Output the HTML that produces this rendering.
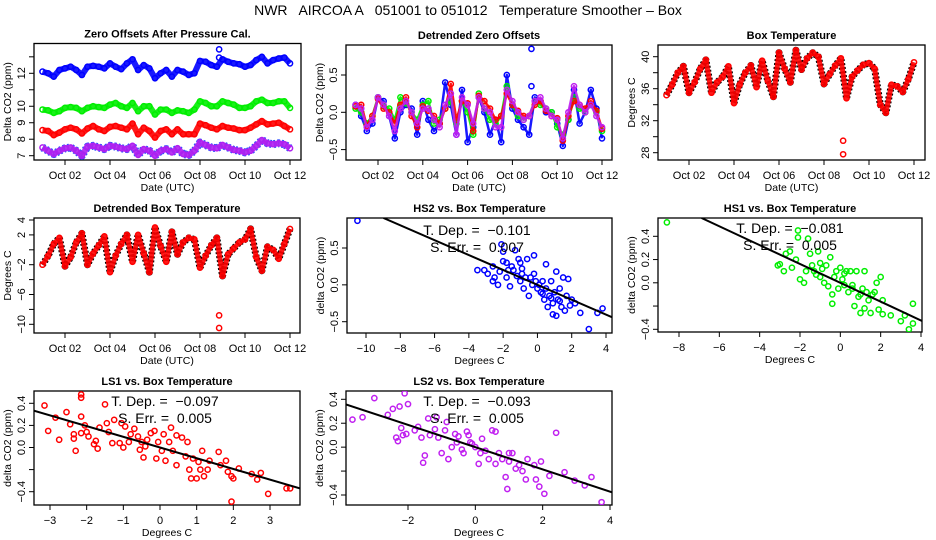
<!DOCTYPE html>
<html><head><meta charset="utf-8"><style>
html,body{margin:0;padding:0;background:#fff;width:936px;height:540px;overflow:hidden;}
svg{display:block;font-family:"Liberation Sans",sans-serif;overflow:hidden;}
</style></head><body>
<svg id="chart" width="936" height="540" viewBox="0 0 936 540" xmlns="http://www.w3.org/2000/svg">
<rect width="936" height="540" fill="#fff"/>
<text x="468" y="15" text-anchor="middle" font-size="14" style="white-space:pre" xml:space="preserve">NWR   AIRCOA A   051001 to 051012   Temperature Smoother – Box</text>
</svg>
<script>
// ---- time grid (days of October) ----
const days = [1.0,1.25,1.5,1.75,2.0,2.25,2.5,2.75,3.0,3.25,3.5,3.75,4.0,4.25,4.5,4.75,5.0,5.25,5.5,5.75,6.0,6.25,6.5,6.75,7.0,7.25,7.5,7.75,8.0,8.25,8.5,8.75,9.0,9.25,9.5,9.75,10.0,10.25,10.5,10.75,11.0,11.25,11.5,11.75,12.0];
// Zero offsets after pressure cal.
const zoBlue = [12.1,12.0,11.8,12.2,12.3,12.4,12.2,11.9,12.4,12.45,12.4,12.3,12.6,12.4,12.25,12.6,12.85,12.2,12.5,12.3,11.7,12.0,12.2,11.8,12.2,12.1,11.9,12.0,12.75,12.7,12.5,12.4,12.85,12.7,12.6,12.55,12.4,12.5,12.8,13.0,12.6,12.8,12.9,12.95,12.6];
const zoGreen = [9.8,9.75,9.6,9.7,9.9,9.95,9.9,9.7,9.9,10.0,9.95,9.9,10.1,10.2,10.0,9.9,10.2,9.7,10.0,10.0,9.5,9.8,9.8,9.6,9.75,9.7,9.6,9.8,10.3,10.2,10.0,10.0,10.3,10.2,10.1,9.9,9.9,10.0,10.3,10.4,10.2,10.2,10.3,10.3,9.9];
const zoRed = [8.55,8.5,8.25,8.4,8.6,8.7,8.6,8.35,8.65,8.8,8.6,8.5,8.75,8.8,8.7,8.6,8.95,8.3,8.7,8.5,8.1,8.5,8.6,8.3,8.6,8.3,8.3,8.3,8.95,8.85,8.7,8.6,8.8,8.7,8.65,8.55,8.55,8.7,8.9,9.1,8.9,8.95,9.0,8.8,8.6];
const zoPurple = [7.5,7.3,7.1,7.3,7.45,7.5,7.3,7.0,7.55,7.6,7.5,7.4,7.6,7.55,7.45,7.4,7.6,7.05,7.4,7.3,7.0,7.3,7.4,7.2,7.45,7.1,7.05,7.3,7.8,7.65,7.5,7.45,7.65,7.5,7.35,7.3,7.2,7.3,7.6,7.95,7.75,7.7,7.75,7.7,7.45];
// Detrended zero offsets
const dzBlue = [0.10,-0.05,-0.25,-0.15,0.20,0.15,-0.05,-0.35,0.0,0.10,0.05,-0.30,0.15,-0.10,-0.25,-0.15,0.40,0.10,-0.30,0.30,-0.40,-0.20,0.20,0.0,-0.30,-0.10,-0.40,0.50,0.05,-0.10,-0.20,-0.30,0.20,0.15,0.0,0.0,-0.15,-0.45,-0.10,0.30,-0.15,0.0,0.30,0.05,-0.35];
const dzGreen = [0.05,0.0,-0.15,-0.05,0.20,0.08,0.05,-0.10,0.20,0.12,0.0,-0.10,0.10,0.15,-0.15,-0.10,0.05,0.15,-0.15,0.15,0.0,-0.30,0.25,0.05,-0.10,-0.15,-0.05,0.35,0.10,-0.05,-0.10,-0.05,0.15,0.10,0.05,0.0,-0.20,-0.30,-0.10,0.20,0.05,0.0,0.10,0.0,-0.25];
const dzRed = [0.08,0.10,-0.18,-0.05,0.18,0.05,0.0,-0.15,0.10,0.20,-0.05,-0.20,0.08,0.02,-0.05,-0.15,0.05,0.38,-0.10,0.15,0.12,-0.25,0.22,0.15,0.05,-0.10,-0.05,0.25,0.10,0.02,-0.05,-0.05,0.10,0.15,0.02,-0.05,-0.08,-0.38,-0.05,0.15,0.10,0.05,0.15,0.02,-0.22];
const dzPurple = [0.10,0.05,-0.20,-0.10,0.20,0.10,-0.05,-0.25,0.05,0.15,0.0,-0.15,0.05,0.05,-0.10,-0.20,0.10,0.25,-0.30,0.20,0.10,-0.15,0.20,0.05,0.0,-0.20,-0.20,0.30,0.15,0.0,-0.10,-0.05,0.15,0.20,0.05,-0.05,-0.10,-0.35,0.0,0.35,0.10,0.0,0.10,-0.05,-0.20];
// Box temperature and detrended box temperature
const boxTemp = [35.2,36.5,38.0,38.8,35.5,36.8,38.5,39.6,35.5,36.8,37.5,38.8,34.2,36.5,38.0,38.9,36.2,39.5,37.0,35.0,40.5,38.5,36.8,40.8,38.4,39.8,40.5,40.0,36.6,37.8,38.9,39.8,34.8,37.5,38.3,39.0,39.2,38.5,34.0,33.0,36.5,36.3,35.6,37.2,39.3];
const boxDetr = [-2.0,-0.8,0.8,1.6,-2.2,-1.0,1.0,2.2,-2.0,-0.5,0.6,1.8,-3.0,-0.8,0.8,2.0,-1.6,2.0,-0.5,-3.0,3.0,0.5,-1.6,2.4,-0.6,1.0,1.6,1.4,-2.4,-0.8,0.6,1.6,-3.5,-0.6,0.2,1.0,1.4,2.8,-1.0,-2.8,0.4,0.0,-1.2,0.8,2.8];
// isolated outliers
const outDays = [8.85,8.85];
const boxTempOut = [29.5,27.8];
const boxDetrOut = [-8.8,-10.5];
const zoBlueOut = [13.45,12.95];
const dzBlueOut = [0.85,0.35];
// Scatter: HS2
const hs2Temp = [-10.5,-3.5,-3.1,-2.9,-2.6,-2.6,-2.5,-2.3,-2.2,-2.1,-2.0,-2.0,-1.8,-1.8,-1.6,-1.5,-1.4,-1.3,-1.2,-1.1,-1.0,-1.0,-0.9,-0.8,-0.7,-0.6,-0.5,-0.4,-0.3,-0.2,-0.2,-0.1,0.0,0.1,0.2,0.3,0.4,0.5,0.5,0.6,0.7,0.8,0.9,0.9,1.0,1.1,1.1,1.2,1.3,1.4,1.5,1.6,1.7,1.8,1.9,2.0,2.2,2.5,3.0,3.5,3.8,-1.7,-0.9,0.3,1.3,0.8];
const hs2Co2 = [0.87,0.2,0.2,0.15,0.25,0.05,0.1,0.0,0.18,0.55,0.45,0.32,0.3,0.1,-0.02,0.25,0.2,0.47,0.12,0.35,0.3,0.05,0.15,-0.05,0.1,0.35,-0.15,0.1,0.0,0.4,0.15,0.05,-0.05,0.0,-0.1,0.05,-0.2,0.28,-0.05,-0.3,-0.15,0.05,-0.4,-0.25,-0.1,0.18,-0.42,-0.2,-0.05,-0.3,0.1,-0.35,-0.15,0.08,-0.28,-0.2,-0.25,-0.38,-0.6,-0.38,-0.32,0.2,0.22,-0.12,-0.22,-0.18];
// Scatter: HS1
const hs1Temp = [-8.6,-3.1,-3.0,-2.8,-2.7,-2.5,-2.4,-2.2,-2.1,-2.1,-2.0,-1.8,-1.7,-1.6,-1.5,-1.4,-1.3,-1.2,-1.1,-1.0,-0.9,-0.8,-0.7,-0.6,-0.5,-0.4,-0.4,-0.3,-0.2,-0.1,0.0,0.1,0.2,0.3,0.4,0.5,0.6,0.7,0.8,0.9,1.0,1.1,1.2,1.2,1.3,1.4,1.5,1.6,1.7,1.8,1.9,2.0,2.1,2.1,2.5,3.0,3.2,3.4,3.6,3.6,-1.0,0.2,1.0,0.6];
const hs1Co2 = [0.52,0.15,0.16,0.1,0.25,0.27,0.13,0.2,0.45,0.39,0.03,0.0,0.1,0.38,0.25,0.15,0.1,0.07,0.27,0.17,0.12,0.0,0.15,-0.03,0.22,-0.1,-0.18,0.05,0.1,-0.05,0.13,0.03,-0.02,0.1,-0.08,0.1,-0.05,-0.2,0.1,-0.12,-0.26,-0.05,0.1,-0.22,-0.08,-0.15,-0.26,-0.1,-0.08,0.0,-0.23,0.05,-0.15,-0.27,-0.28,-0.33,-0.28,-0.4,-0.35,-0.18,0.05,0.08,-0.1,-0.02];
// Scatter: LS1
const ls1Temp = [-3.15,-3.05,-2.85,-2.75,-2.55,-2.45,-2.35,-2.35,-2.3,-2.15,-2.15,-2.15,-2.15,-2.05,-2.0,-1.95,-1.8,-1.75,-1.7,-1.65,-1.5,-1.45,-1.4,-1.3,-1.25,-1.1,-1.05,-1.0,-0.95,-0.85,-0.8,-0.7,-0.6,-0.55,-0.5,-0.45,-0.4,-0.35,-0.25,-0.15,-0.1,-0.05,0.05,0.1,0.15,0.25,0.3,0.35,0.45,0.45,0.6,0.7,0.75,0.8,0.85,0.9,1.0,1.05,1.1,1.15,1.2,1.3,1.35,1.6,1.65,1.8,1.85,1.95,2.0,1.95,2.15,2.5,2.65,2.75,2.95,3.45,3.55];
const ls1Co2 = [0.38,0.15,0.27,0.07,0.32,0.21,0.12,0.08,-0.03,0.28,0.48,0.45,0.13,0.2,0.14,0.1,0.03,0.06,-0.01,0.18,0.39,0.22,0.14,0.04,0.25,0.04,0.22,0.0,0.19,0.05,0.12,0.17,0.1,-0.02,0.05,-0.09,0.01,0.07,0.13,0.15,-0.1,0.05,-0.03,0.12,-0.12,0.05,0.18,-0.03,0.11,-0.16,0.09,-0.08,0.05,-0.2,-0.28,-0.1,-0.28,-0.13,-0.2,-0.03,-0.26,-0.2,-0.12,-0.04,-0.16,-0.12,-0.22,-0.26,-0.28,-0.49,-0.19,-0.24,-0.29,-0.23,-0.42,-0.37,-0.37];
// Scatter: LS2
const ls2Temp = [-3.65,-3.35,-3.0,-2.6,-2.45,-2.35,-2.3,-2.25,-2.2,-2.15,-2.1,-2.05,-2.0,-1.8,-1.7,-1.6,-1.55,-1.5,-1.4,-1.35,-1.2,-1.15,-1.1,-1.0,-0.9,-0.85,-0.8,-0.7,-0.6,-0.55,-0.5,-0.4,-0.35,-0.25,-0.15,-0.1,0.0,0.1,0.15,0.2,0.3,0.4,0.5,0.6,0.6,0.7,0.8,0.9,0.95,1.0,1.1,1.2,1.3,1.4,1.5,1.55,1.75,1.8,1.9,1.95,2.05,2.2,2.4,2.65,2.95,3.25,3.45,3.75,1.0,-0.2];
const ls2Co2 = [0.23,0.25,0.41,0.27,0.32,0.08,0.05,0.34,0.16,0.1,0.45,0.11,0.36,0.14,0.17,0.08,-0.13,-0.07,0.24,0.1,0.15,0.25,0.08,-0.05,0.14,0.21,-0.1,0.0,0.11,0.04,0.09,-0.02,-0.05,0.13,0.04,0.03,0.0,-0.14,-0.05,0.07,-0.03,-0.1,0.14,0.13,-0.14,-0.05,-0.1,-0.25,-0.35,-0.12,-0.05,-0.18,-0.15,-0.2,-0.27,-0.1,-0.15,-0.27,-0.33,-0.12,-0.39,-0.24,0.12,-0.21,-0.28,-0.32,-0.25,-0.46,-0.05,0.1];
// Fitted slopes and printed stats
const slopes = [-0.101,-0.081,-0.097,-0.093];
const depLabels = ["−0.101","−0.081","−0.097","−0.093"];
const errLabels = ["0.007","0.005","0.005","0.005"];
const dateTicks = [2,4,6,8,10,12];
const dateLabels = ["Oct 02","Oct 04","Oct 06","Oct 08","Oct 10","Oct 12"];

const NS = "http://www.w3.org/2000/svg";
const svg = document.getElementById('chart');
function el(tag, attrs, parent, name) {
  const e = document.createElementNS(NS, tag);
  for (const k in attrs) e.setAttribute(k, attrs[k]);
  
  
  (parent || svg).appendChild(e);
  return e;
}
function lin(d0, p0, d1, p1) { return v => p0 + (v - d0) * (p1 - p0) / (d1 - d0); }

function panel(o) {
  const g = el('g', {}, svg, o.id + '-panel');
  const X = lin(o.xr[0], o.xr[1], o.xr[2], o.xr[3]);
  const Y = lin(o.yr[0], o.yr[1], o.yr[2], o.yr[3]);
  const Xinv = lin(o.xr[1], o.xr[0], o.xr[3], o.xr[2]);
  el('rect', {x:o.b[0], y:o.b[2], width:o.b[1]-o.b[0], height:o.b[3]-o.b[2], fill:'none', stroke:'#000', 'stroke-width':1.3}, g, o.id + '-plot-box');
  const t = el('text', {x:(o.b[0]+o.b[1])/2, y:o.b[2]-6, 'text-anchor':'middle', 'font-size':11, 'font-weight':'bold'}, g, o.id + '-title');
  t.textContent = o.title;
  const xa = el('g', {}, g, o.id + '-x-axis');
  el('line', {x1:X(o.xt[0]), x2:X(o.xt[o.xt.length-1]), y1:o.b[3], y2:o.b[3], stroke:'#000'}, xa, o.id + '-x-axis-line');
  o.xt.forEach((v, i) => {
    el('line', {x1:X(v), x2:X(v), y1:o.b[3], y2:o.b[3]+5, stroke:'#000'}, xa, o.id + '-x-tick');
    const tl = el('text', {x:X(v), y:o.b[3]+19, 'text-anchor':'middle', 'font-size':11}, xa, o.id + '-x-tick-label');
    tl.textContent = o.xl[i];
  });
  const xl = el('text', {x:(o.b[0]+o.b[1])/2, y:o.b[3]+31, 'text-anchor':'middle', 'font-size':10.5}, g, o.id + '-x-axis-title');
  xl.textContent = o.xlab;
  const ya = el('g', {}, g, o.id + '-y-axis');
  el('line', {x1:o.b[0], x2:o.b[0], y1:Y(o.yt[0]), y2:Y(o.yt[o.yt.length-1]), stroke:'#000'}, ya, o.id + '-y-axis-line');
  o.yt.forEach((v, i) => {
    el('line', {x1:o.b[0]-5, x2:o.b[0], y1:Y(v), y2:Y(v), stroke:'#000'}, ya, o.id + '-y-tick');
    if (o.yl[i] !== "") {
      const yy = Y(v), xx = o.b[0]-9;
      const tl = el('text', {x:xx, y:yy, 'text-anchor':'middle', 'font-size':11, transform:`rotate(-90 ${xx} ${yy})`}, ya, o.id + '-y-tick-label');
      tl.textContent = o.yl[i];
    }
  });
  const ym = (o.b[2]+o.b[3])/2, yx = o.b[0]-23;
  const ylab = el('text', {x:yx, y:ym, 'text-anchor':'middle', 'font-size':10.5, transform:`rotate(-90 ${yx} ${ym})`}, g, o.id + '-y-axis-title');
  ylab.textContent = o.ylab;
  const clip = el('clipPath', {id:o.id+'-clip'}, g, o.id + '-clip');
  el('rect', {x:o.b[0], y:o.b[2], width:o.b[1]-o.b[0], height:o.b[3]-o.b[2]}, clip, o.id + '-clip-rect');
  const plot = el('g', {'clip-path':`url(#${o.id}-clip)`}, g, o.id + '-plot-area');
  return {X, Y, Xinv, plot, g, b:o.b};
}
function series(P, xs, ys, color, name, band, edge, r) {
  const sg = el('g', {}, P.plot, name);
  const pts = xs.map((x, i) => P.X(x).toFixed(1) + ',' + P.Y(ys[i]).toFixed(1)).join(' ');
  if (band) {
    if (edge) el('polyline', {points:pts, fill:'none', stroke:edge, 'stroke-width':band+2, 'stroke-linejoin':'round', 'stroke-dasharray':'2 2'}, sg, name + '-edge');
    el('polyline', {points:pts, fill:'none', stroke:color, 'stroke-width':band, 'stroke-linejoin':'round', opacity:0.9}, sg, name + '-band');
  }
  xs.forEach((x, i) => {
    el('circle', {cx:P.X(x), cy:P.Y(ys[i]), r:r||2.6, fill:'none', stroke:color, 'stroke-width':1.5}, sg, name + '-point');
  });
}
function fitLine(P, slope, name) {
  // clip line to plot box in data space
  const xa = P.Xinv(P.b[0]), xb = P.Xinv(P.b[1]);
  const yTopVal = lin(P.Y(0), 0, P.Y(1), 1)(P.b[2]);
  let x0 = xa;
  if (slope*xa > yTopVal) x0 = yTopVal/slope;
  el('line', {x1:P.X(x0), y1:P.Y(slope*x0), x2:P.X(xb), y2:P.Y(slope*xb), stroke:'#000', 'stroke-width':2}, P.plot, name);
}
function stats(P, cx, cy, i, id) {
  const a = el('text', {x:cx, y:cy, 'text-anchor':'middle', 'font-size':14, style:'white-space:pre'}, P.g, id + '-tdep-label');
  a.textContent = 'T. Dep. =  ' + depLabels[i];
  const b = el('text', {x:cx, y:cy+17, 'text-anchor':'middle', 'font-size':14, style:'white-space:pre'}, P.g, id + '-serr-label');
  b.textContent = 'S. Err. =  ' + errLabels[i];
}

const o1 = {id:'zero-offsets', b:[34,301,43.5,160], xr:[2,65,12,290], yr:[12,73.3,7,155.7], title:'Zero Offsets After Pressure Cal.', xt:dateTicks, xl:dateLabels, yt:[7,8,9,10,11,12,13], yl:['7','8','9','10','','12',''], xlab:'Date (UTC)', ylab:'Delta CO2 (ppm)'};
const P1 = panel(o1);
series(P1, days, zoBlue, '#0000ff', 'hs2-offset-series', 6);
series(P1, days, zoGreen, '#00ee00', 'hs1-offset-series', 6);
series(P1, days, zoRed, '#ff0000', 'ls1-offset-series', 6);
series(P1, days, zoPurple, '#b020f0', 'ls2-offset-series', 6, '#3050ff');
series(P1, outDays, zoBlueOut, '#0000ff', 'hs2-offset-outliers');

const o2 = {id:'detrended-offsets', b:[346,612,45,160], xr:[2,378,12,602], yr:[0,112.3,0.5,75], title:'Detrended Zero Offsets', xt:dateTicks, xl:dateLabels, yt:[-0.5,0,0.5], yl:['−0.5','0.0','0.5'], xlab:'Date (UTC)', ylab:'Delta CO2  (ppm)'};
const P2 = panel(o2);
series(P2, days, dzBlue, '#0000ff', 'hs2-detrended-series', 2.5);
series(P2, days, dzGreen, '#00ee00', 'hs1-detrended-series', 2.5);
series(P2, days, dzRed, '#ff0000', 'ls1-detrended-series', 2.5);
series(P2, days, dzPurple, '#c020f0', 'ls2-detrended-series', 2.5);
series(P2, outDays, dzBlueOut, '#0000ff', 'hs2-detrended-outliers');

const o3 = {id:'box-temperature', b:[658,925,45,160], xr:[2,689,12,914], yr:[40,56.7,28,152.7], title:'Box Temperature', xt:dateTicks, xl:dateLabels, yt:[28,30,32,34,36,38,40], yl:['28','','32','','36','','40'], xlab:'Date (UTC)', ylab:'Degrees C'};
const P3 = panel(o3);
series(P3, days, boxTemp, '#ff0000', 'box-temp-series', 5, '#000');
series(P3, outDays, boxTempOut, '#ff0000', 'box-temp-outliers');

const o4 = {id:'detrended-box-temperature', b:[34,300,218,333], xr:[2,65,12,290], yr:[4,220,-10,324.3], title:'Detrended Box Temperature', xt:dateTicks, xl:dateLabels, yt:[-10,-8,-6,-4,-2,0,2,4], yl:['−10','','−6','','−2','','2','4'], xlab:'Date (UTC)', ylab:'Degrees C'};
const P4 = panel(o4);
series(P4, days, boxDetr, '#ff0000', 'detrended-temp-series', 5, '#000');
series(P4, outDays, boxDetrOut, '#ff0000', 'detrended-temp-outliers');

const o5 = {id:'hs2-vs-temp', b:[347,612,218,333], xr:[-10,366,4,606], yr:[0.5,248,-0.5,321.7], title:'HS2 vs. Box Temperature', xt:[-10,-8,-6,-4,-2,0,2,4], xl:['−10','−8','−6','−4','−2','0','2','4'], yt:[-0.5,0,0.5], yl:['−0.5','0.0','0.5'], xlab:'Degrees C', ylab:'delta CO2 (ppm)'};
const P5 = panel(o5);
series(P5, hs2Temp, hs2Co2, '#0000ff', 'hs2-scatter');
fitLine(P5, slopes[0], 'hs2-fit-line');
stats(P5, 477, 235, 0, 'hs2');

const o6 = {id:'hs1-vs-temp', b:[658,922,218,332], xr:[-8,679,4,921], yr:[0.4,236.3,-0.4,329.3], title:'HS1 vs. Box Temperature', xt:[-8,-6,-4,-2,0,2,4], xl:['−8','−6','−4','−2','0','2','4'], yt:[-0.4,-0.2,0,0.2,0.4], yl:['−0.4','','0.0','0.2','0.4'], xlab:'Degrees C', ylab:'delta CO2 (ppm)'};
const P6 = panel(o6);
series(P6, hs1Temp, hs1Co2, '#00ee00', 'hs1-scatter');
fitLine(P6, slopes[1], 'hs1-fit-line');
stats(P6, 790, 233, 1, 'hs1');

const o7 = {id:'ls1-vs-temp', b:[34,300,391,505], xr:[-3,50,3,270], yr:[0.4,403.3,-0.4,491.7], title:'LS1 vs. Box Temperature', xt:[-3,-2,-1,0,1,2,3], xl:['−3','−2','−1','0','1','2','3'], yt:[-0.4,-0.2,0,0.2,0.4], yl:['−0.4','','0.0','0.2','0.4'], xlab:'Degrees C', ylab:'delta CO2 (ppm)'};
const P7 = panel(o7);
series(P7, ls1Temp, ls1Co2, '#ff0000', 'ls1-scatter');
fitLine(P7, slopes[2], 'ls1-fit-line');
stats(P7, 165, 406, 2, 'ls1');

const o8 = {id:'ls2-vs-temp', b:[346,612,391,505], xr:[-2,408,4,610], yr:[0.4,399.3,-0.4,495], title:'LS2 vs. Box Temperature', xt:[-2,0,2,4], xl:['−2','0','2','4'], yt:[-0.4,-0.2,0,0.2,0.4], yl:['−0.4','','0.0','0.2','0.4'], xlab:'Degrees C', ylab:'delta CO2 (ppm)'};
const P8 = panel(o8);
series(P8, ls2Temp, ls2Co2, '#c020f0', 'ls2-scatter');
fitLine(P8, slopes[3], 'ls2-fit-line');
stats(P8, 477, 406, 3, 'ls2');
</script>
</body></html>
